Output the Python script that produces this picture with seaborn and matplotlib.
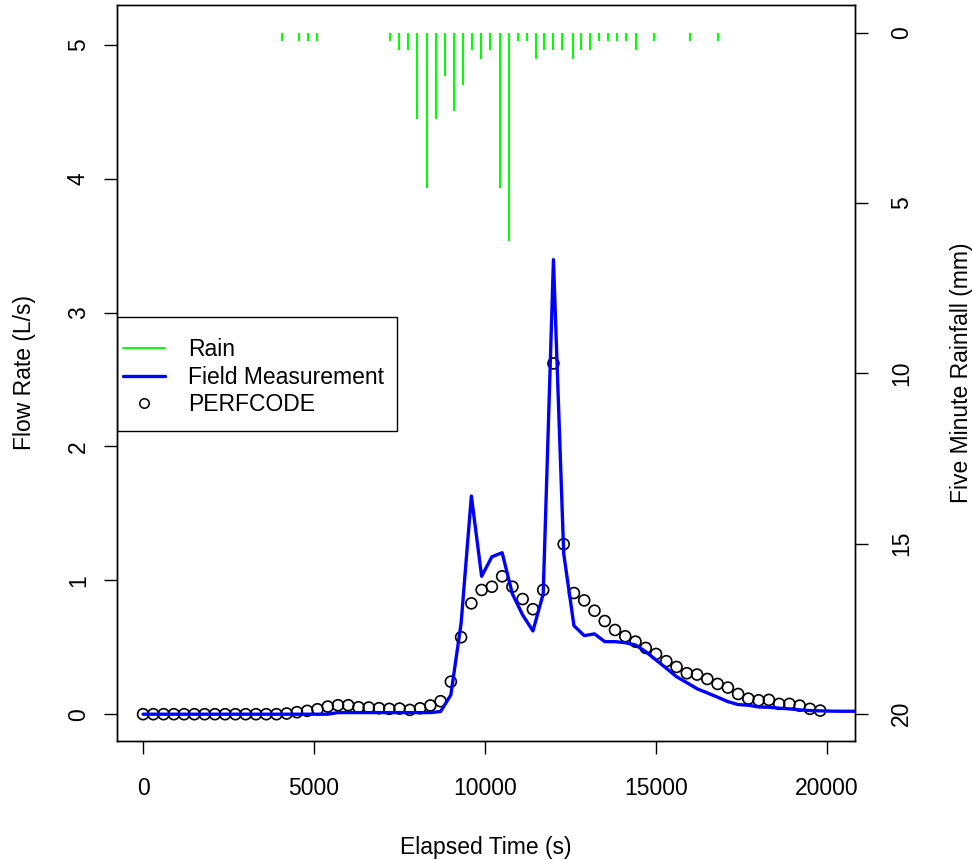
import matplotlib
matplotlib.use("Agg")
import matplotlib.pyplot as plt
from matplotlib.lines import Line2D
from matplotlib.patches import Rectangle
import numpy as np
import seaborn as sns

# flow series, one value every 300 s
step = 300
perfcode = [0, 0, 0, 0, 0, 0, 0, 0, 0, 0, 0, 0, 0, 0, 0.005, 0.015, 0.025, 0.037,
            0.057, 0.067, 0.067, 0.052, 0.05, 0.045, 0.04, 0.042, 0.032, 0.044,
            0.065, 0.097, 0.243, 0.575, 0.828, 0.928, 0.952, 1.03, 0.952, 0.86,
            0.784, 0.928, 2.62, 1.27, 0.905, 0.85, 0.773, 0.696, 0.629, 0.582,
            0.542, 0.495, 0.45, 0.396, 0.353, 0.306, 0.296, 0.263, 0.226, 0.199,
            0.151, 0.116, 0.104, 0.107, 0.077, 0.077, 0.064, 0.04, 0.027]
field = [0, 0, 0, 0, 0, 0, 0, 0, 0, 0, 0, 0, 0, 0, 0, 0, 0, 0, 0,
         0.012, 0.012, 0.012, 0.012, 0.012, 0.012, 0.012, 0.012, 0.012, 0.012,
         0.02, 0.144, 0.68, 1.63, 1.03, 1.176, 1.206, 0.898, 0.741, 0.622,
         0.898, 3.395, 1.2, 0.661, 0.587, 0.6, 0.542, 0.542, 0.534, 0.517,
         0.467, 0.405, 0.343, 0.28, 0.236, 0.19, 0.159, 0.127, 0.094, 0.072,
         0.067, 0.054, 0.052, 0.045, 0.04, 0.032, 0.027, 0.025, 0.023, 0.022,
         0.022, 0.022]
t_perf = np.arange(len(perfcode)) * step
t_field = np.arange(len(field)) * step

# five minute rainfall (mm), times in s
rain_t = [4056, 4570, 4825, 5088, 7222, 7485, 7740, 8003, 8304, 8567, 8822,
          9085, 9348, 9611, 9874, 10137, 10439, 10702, 10956, 11219, 11482,
          11734, 11997, 12260, 12564, 12816, 13079, 13342, 13605, 13868, 14123,
          14424, 14950, 15985, 16822]
rain_mm = [0.25, 0.25, 0.25, 0.25, 0.25, 0.51, 0.51, 2.54, 4.57, 2.54, 1.27,
           2.29, 1.52, 0.51, 0.76, 0.51, 4.57, 6.10, 0.25, 0.25, 0.76, 0.51,
           0.51, 0.51, 0.76, 0.51, 0.51, 0.25, 0.25, 0.25, 0.25, 0.51, 0.25,
           0.25, 0.25]

x_ticks = [0, 5000, 10000, 15000, 20000]
flow_ticks = [0, 1, 2, 3, 4, 5]
rain_ticks = [0, 5, 10, 15, 20]

sns.set_theme(style="white")
plt.rcParams['font.family'] = ['Liberation Sans', 'DejaVu Sans']
plt.rcParams['font.size'] = 16.5
plt.rcParams['text.color'] = 'black'

fs = 16.5
fig = plt.figure(figsize=(9.72, 8.6), dpi=100)
ax = fig.add_axes([0.1201, 0.1384, 0.7596, 0.8562])
ax2 = ax.twinx()

sns.lineplot(x=t_field, y=field, ax=ax, color='blue', lw=2.4)
sns.scatterplot(x=t_perf, y=perfcode, ax=ax, marker='o', s=62,
                facecolors='none', edgecolor='black', linewidth=1.2)
ax2.vlines(rain_t, 0, rain_mm, colors='#00ff00', lw=1.5)

ax.set_xlim(-770, 20820)
ax.set_ylim(-0.2, 5.3)
ax2.set_ylim(20.8, -0.83)

ax.set_xticks(x_ticks)
ax.set_xticklabels([str(v) for v in x_ticks])
ax.set_yticks(flow_ticks)
ax.set_yticklabels([str(v) for v in flow_ticks])
ax2.set_yticks(rain_ticks)
ax2.set_yticklabels([str(v) for v in rain_ticks])

for a in (ax, ax2):
    for s in a.spines.values():
        s.set_color('black')
        s.set_linewidth(1.0)
ax.tick_params(axis='x', bottom=True, direction='out', length=9.5, width=1,
               color='black', labelsize=fs, labelcolor='black', pad=16.5)
ax.tick_params(axis='y', left=True, direction='out', length=9.5, width=1,
               color='black', labelsize=fs, labelcolor='black', pad=9.8,
               labelrotation=90)
ax2.tick_params(axis='y', right=True, direction='out', length=9.5, width=1,
                color='black', labelsize=fs, labelcolor='black', pad=15.5,
                labelrotation=90)
for lab in ax.get_yticklabels() + ax2.get_yticklabels():
    lab.set_va('center')

ax.set_xlabel('Elapsed Time (s)', fontsize=fs, color='black', labelpad=25.5)
ax.set_ylabel('Flow Rate (L/s)', fontsize=fs, color='black', labelpad=22.5)
ax2.set_ylabel('Five Minute Rainfall (mm)', fontsize=fs, color='black',
               labelpad=27)

handles = [Line2D([], [], color='#00ff00', lw=1.4),
           Line2D([], [], color='blue', lw=2.4),
           Line2D([], [], ls='none', marker='o', ms=6.8, mfc='none',
                  mec='black', mew=1.1)]
labels = ['Rain', 'Field Measurement', 'PERFCODE']
leg = ax2.legend(handles, labels, loc='center left', bbox_to_anchor=(0, 0.494),
                 frameon=False, borderaxespad=0, borderpad=0.27,
                 handlelength=1.85, handletextpad=1.0, labelspacing=0.2,
                 fontsize=fs)
ax2.add_patch(Rectangle((0.0008, 0.4214), 0.3792, 0.1549,
                        transform=ax2.transAxes, fill=False, ec='black',
                        lw=1.0, zorder=6))

fig.savefig('out.png', dpi=100)
